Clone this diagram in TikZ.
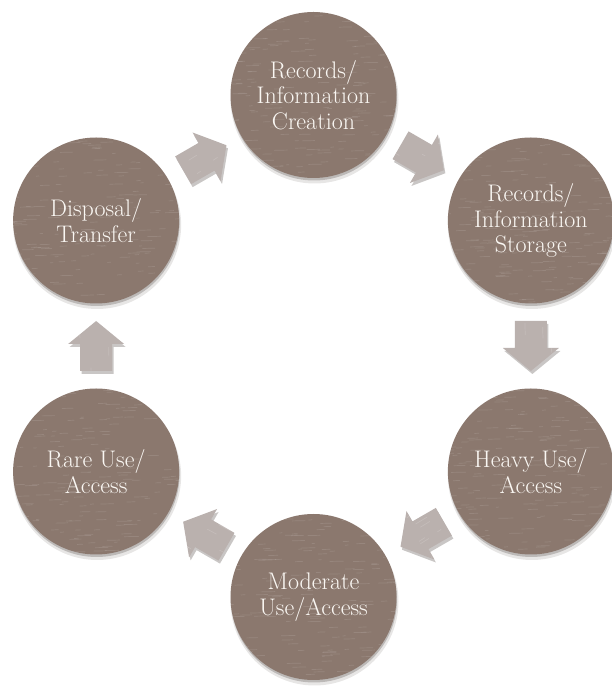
\documentclass[tikz,border=0pt]{standalone}
\usepackage{fontspec}
\usetikzlibrary{calc}
\definecolor{circfill}{RGB}{139,120,110}
\definecolor{arrfill}{RGB}{186,177,174}
\definecolor{txtc}{RGB}{250,247,243}
\definecolor{shadc}{RGB}{60,50,45}
\newcommand\circtexture[2]{%
  \foreach \i in {1,...,#1}{%
    \pgfmathsetmacro\tx{rnd*180-90}%
    \pgfmathsetmacro\ty{rnd*180-90}%
    \pgfmathsetmacro\tl{rnd*12+3}%
    \draw[white,opacity=#2,line width=0.7pt]
      ([xshift=\tx pt,yshift=\ty pt]path picture bounding box.center) -- ++(\tl pt,0.3pt);
  }}
\tikzset{
  circ/.style={circle, minimum size=166pt, inner sep=0pt, fill=circfill,
    text=txtc, align=center, font=\fontsize{24}{25.5}\selectfont,
    path picture={\circtexture{200}{0.11}}},
  blockarrow/.pic={\path[fill=arrfill, path picture={\circtexture{60}{0.15}}]
    (-25,-16) -- (2,-16) -- (2,-28) -- (25,0) -- (2,28) -- (2,16) -- (-25,16) -- cycle;},
  blockshadow/.pic={\fill[shadc,opacity=0.28]
    (-25,-16) -- (2,-16) -- (2,-28) -- (25,0) -- (2,28) -- (2,16) -- (-25,16) -- cycle;},
  circshadow/.style={fill=shadc}
}
\begin{document}
\begin{tikzpicture}[x=1pt,y=1pt]
\useasboundingbox (0,0) rectangle (612,688);
\pgfmathsetseed{7}
\coordinate (O) at (313.5,342);
\foreach \n/\a in {ptop/90,pur/30,plr/-30,pbot/-90,pll/210,pul/150}
  \coordinate (\n) at ($(O)+(\a:251)$);
% soft shadows of circles
\foreach \n in {ptop,pur,plr,pbot,pll,pul}{
  \fill[circshadow,opacity=0.12] ($(\n)+(1,-4.5)$) circle (84);
  \fill[circshadow,opacity=0.25] ($(\n)+(0.5,-2.5)$) circle (83);
}
\node[circ] (top) at (ptop) {Records/\\Information\\Creation};
\node[circ] (ur) at (pur) {Records/\\Information\\Storage};
\node[circ] (lr) at (plr) {Heavy Use/\\Access};
\node[circ] (bot) at (pbot) {Moderate\\Use/Access};
\node[circ] (ll) at (pll) {Rare Use/\\Access};
\node[circ] (ul) at (pul) {Disposal/\\Transfer};
% arrows between circles
\coordinate (m1) at ($(ul)!0.5!(top)$);
\coordinate (m2) at ($(top)!0.5!(ur)$);
\coordinate (m3) at ($(ur)!0.5!(lr)$);
\coordinate (m4) at ($(lr)!0.5!(bot)$);
\coordinate (m5) at ($(bot)!0.5!(ll)$);
\coordinate (m6) at ($(ll)!0.5!(ul)$);
\foreach \m/\r in {m1/30,m2/-30,m3/-90,m4/-150,m5/150,m6/90}{
  \pic[rotate=\r] at ($(\m)+(1.5,-3)$) {blockshadow};
  \pic[rotate=\r] at (\m) {blockarrow};
}
\end{tikzpicture}
\end{document}
